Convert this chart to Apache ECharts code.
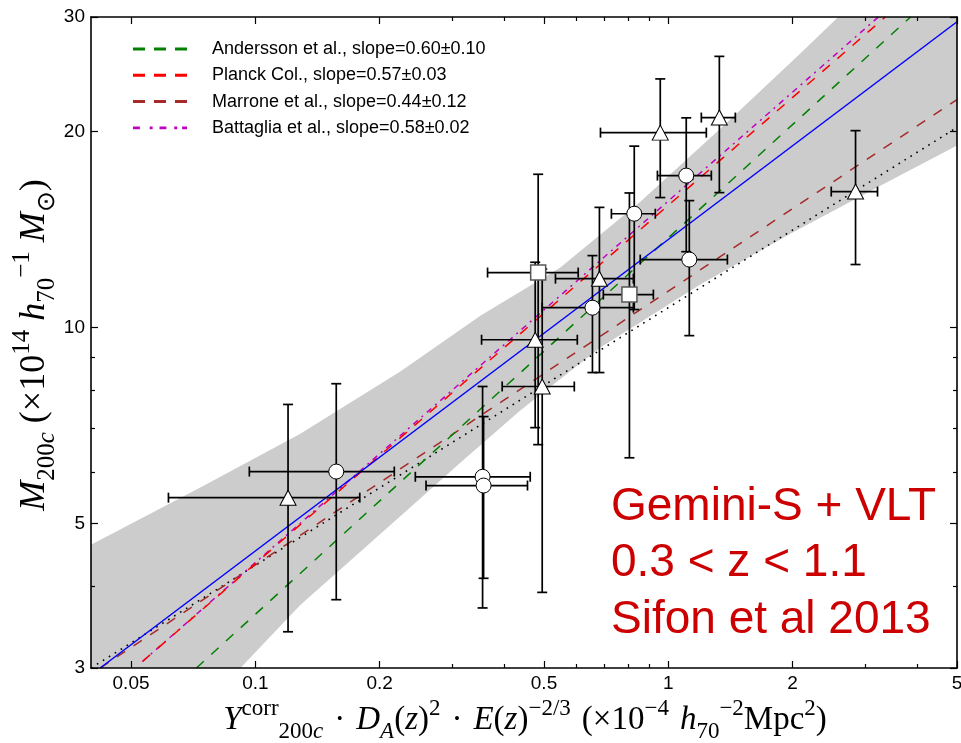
<!DOCTYPE html>
<html>
<head>
<meta charset="utf-8">
<script src="https://cdn.jsdelivr.net/npm/echarts@6/dist/echarts.min.js"></script>
<style>html,body{margin:0;padding:0;background:#fff;}</style>
</head>
<body>
<div id="main" style="width:961px;height:743px;"></div>
<script type="text/javascript">
// axis ticks
var xMajorTicks = [0.05, 0.1, 0.2, 0.5, 1, 2, 5];
var xMinorTicks = [0.3, 0.4, 0.6, 0.7, 0.8, 0.9, 3, 4];
var yMajorTicks = [3, 5, 10, 20, 30];
var yMinorTicks = [4, 6, 7, 8, 9];

// clusters: Y (x axis) and M200c (y axis), with error ranges
var ptShape = ['triangle', 'circle', 'circle', 'circle', 'rect', 'triangle', 'triangle', 'circle',
               'triangle', 'rect', 'circle', 'triangle', 'circle', 'circle', 'triangle', 'triangle'];
var ptX = [0.120, 0.157, 0.355, 0.357, 0.484, 0.476, 0.495, 0.655, 0.681, 0.805, 0.827, 0.956, 1.105, 1.124, 1.329, 2.84];
var ptY = [5.48, 6.01, 5.90, 5.72, 12.15, 9.58, 8.12, 10.73, 11.89, 11.24, 14.96, 19.93, 17.12, 12.72, 21.02, 16.18];
var xLo = [0.0616, 0.0967, 0.244, 0.259, 0.365, 0.353, 0.396, 0.495, 0.533, 0.696, 0.728, 0.685, 0.941, 0.855, 1.202, 2.48];
var xHi = [0.179, 0.217, 0.463, 0.456, 0.605, 0.602, 0.592, 0.823, 0.823, 0.920, 0.930, 1.236, 1.271, 1.390, 1.453, 3.21];
var yLo = [3.41, 3.82, 3.71, 4.12, 6.61, 7.02, 3.92, 8.53, 8.53, 6.31, 10.66, 15.84, 13.08, 9.72, 16.12, 12.50];
var yHi = [7.62, 8.20, 8.12, 7.30, 17.2, 12.6, 12.3, 12.9, 15.3, 16.1, 19.0, 24.1, 21.0, 15.67, 26.1, 20.07];

// scaling relations (end points)
var fitX = [0.0421, 5], fitY = [3, 29.5];
var anderssonX = [0.072, 3.86], anderssonY = [3, 30];
var planckX = [0.0533, 3.353], planckY = [3.07, 30];
var marroneX = [0.0421, 5], marroneY = [3, 22.4];
var battagliaX = [0.0533, 3.225], battagliaY = [3.07, 30];
var dottedX = [0.04, 5], dottedY = [3, 20.3];

// grey confidence band: upper edge left->right, lower edge right->left
var bandUpX = [0.04, 0.0736, 0.1285, 0.2244, 0.3506, 0.5477, 0.8554, 1.336, 2.087, 2.579, 5];
var bandUpY = [4.64, 5.68, 6.87, 8.56, 10.43, 12.37, 15.61, 20.21, 26.36, 30, 30];
var bandLoX = [5, 3.262, 1.974, 1.195, 0.6845, 0.438, 0.3135, 0.2244, 0.1285, 0.092, 0.04];
var bandLoY = [19.04, 16.52, 13.94, 11.65, 9.32, 7.46, 6.20, 5.13, 3.75, 3, 3];

var sans = 'Liberation Sans, Arial, sans-serif';
var serif = 'Liberation Serif, Times New Roman, serif';

var myChart = echarts.init(document.getElementById('main'));

function tickFmt(v) {
    return String(parseFloat(Number(v).toPrecision(3)));
}

function xAxisDef(pos, ticks, len, labels, line) {
    return {
        type: 'log', logBase: 10, min: 0.04, max: 5, position: pos, z: 10,
        axisLine: { show: line, onZero: false, lineStyle: { color: '#000', width: 1.6 } },
        axisTick: { show: true, inside: true, length: len, customValues: ticks, lineStyle: { color: '#000', width: 1.2 } },
        axisLabel: { show: labels, customValues: ticks, margin: 6, color: '#000', fontFamily: sans, fontSize: 19, formatter: tickFmt },
        splitLine: { show: false }, minorTick: { show: false }, minorSplitLine: { show: false }
    };
}
function yAxisDef(pos, ticks, len, labels, line) {
    return {
        type: 'log', logBase: 10, min: 3, max: 30, position: pos, z: 10,
        axisLine: { show: line, onZero: false, lineStyle: { color: '#000', width: 1.6 } },
        axisTick: { show: true, inside: true, length: len, customValues: ticks, lineStyle: { color: '#000', width: 1.2 } },
        axisLabel: { show: labels, customValues: ticks, margin: 6, color: '#000', fontFamily: sans, fontSize: 19, formatter: tickFmt },
        splitLine: { show: false }, minorTick: { show: false }, minorSplitLine: { show: false }
    };
}

function pairs(xs, ys) {
    return xs.map(function (x, i) { return [x, ys[i]]; });
}

function fitLine(name, xs, ys, color, width, dash, z) {
    return {
        name: name, type: 'line', data: pairs(xs, ys), symbol: 'none', showSymbol: false, silent: true, z: z,
        itemStyle: { color: color }, lineStyle: { color: color, width: width, type: dash, cap: 'butt' }
    };
}

var errData = ptX.map(function (x, i) { return [x, ptY[i], xLo[i], xHi[i], yLo[i], yHi[i]]; });
var ptData = ptX.map(function (x, i) {
    var s = ptShape[i];
    return {
        value: [x, ptY[i]],
        symbol: s,
        symbolSize: s === 'triangle' ? [16, 15] : 15,
        itemStyle: { color: '#fff', opacity: 1, borderColor: s === 'rect' ? '#555' : '#000', borderWidth: s === 'rect' ? 1.5 : 1 }
    };
});

function renderErr(params, api) {
    var x = api.value(0), y = api.value(1);
    var c = api.coord([x, y]);
    var l = api.coord([api.value(2), y]);
    var r = api.coord([api.value(3), y]);
    var b = api.coord([x, api.value(4)]);
    var t = api.coord([x, api.value(5)]);
    var cap = 5;
    var st = { stroke: '#000', lineWidth: 1.7 };
    function seg(x1, y1, x2, y2) {
        return { type: 'line', shape: { x1: x1, y1: y1, x2: x2, y2: y2 }, style: st };
    }
    return {
        type: 'group',
        children: [
            seg(l[0], c[1], r[0], c[1]),
            seg(c[0], t[1], c[0], b[1]),
            seg(l[0], c[1] - cap, l[0], c[1] + cap),
            seg(r[0], c[1] - cap, r[0], c[1] + cap),
            seg(c[0] - cap, t[1], c[0] + cap, t[1]),
            seg(c[0] - cap, b[1], c[0] + cap, b[1])
        ]
    };
}

function renderBand(params, api) {
    var pts = [];
    bandUpX.forEach(function (x, i) { pts.push(api.coord([x, bandUpY[i]])); });
    bandLoX.forEach(function (x, i) { pts.push(api.coord([x, bandLoY[i]])); });
    return { type: 'polygon', shape: { points: pts }, style: { fill: '#cccccc' } };
}

var dashIcon = 'path://M0,0h12v3h-12zM21,0h12v3h-12zM42,0h12v3h-12z';
var dashDotIcon = 'path://M0,0h7v3h-7zM17,0h3v3h-3zM27,0h7v3h-7zM42,0h3v3h-3zM50,0h5v3h-5z';

var nameAndersson = 'Andersson et al., slope=0.60\u00b10.10';
var namePlanck = 'Planck Col., slope=0.57\u00b10.03';
var nameMarrone = 'Marrone et al., slope=0.44\u00b10.12';
var nameBattaglia = 'Battaglia et al., slope=0.58\u00b10.02';

function mathRich(size) {
    var small = Math.round(size * 0.7);
    var lh = Math.round(size * 1.38), slh = Math.round(small * 1.1);
    return {
        it: { fontFamily: serif, fontStyle: 'italic', fontSize: size, lineHeight: lh, color: '#000' },
        rm: { fontFamily: serif, fontSize: size, lineHeight: lh, color: '#000' },
        sup: { fontFamily: serif, fontSize: small, lineHeight: slh, verticalAlign: 'top', color: '#000' },
        sub: { fontFamily: serif, fontSize: small, lineHeight: slh, verticalAlign: 'bottom', color: '#000' },
        subit: { fontFamily: serif, fontStyle: 'italic', fontSize: small, lineHeight: slh, verticalAlign: 'bottom', color: '#000' }
    };
}

var sp = '\u2004';
var xTitle = '{it|Y}{sup|corr}{sub|200}{subit|c}{rm|' + sp + '\u00b7' + sp + '}{it|D}{subit|A}{rm|(}{it|z}{rm|)}{sup|2}' +
    '{rm|' + sp + '\u00b7' + sp + '}{it|E}{rm|(}{it|z}{rm|)}{sup|\u22122/3}{rm|' + sp + '(\u00d710}{sup|\u22124}{rm|' + sp + '}{it|h}{sub|70}{sup|\u22122}' +
    '{rm|Mpc}{sup|2}{rm|)}';
var yTitle = '{it|M}{sub|200}{subit|c}{rm| (\u00d710}{sup|14}{rm| }{it|h}{sub|70}{sup|\u22121}{rm| }{it|M}{sub|\u2299}{rm|)}';

option = {
    animation: false,
    backgroundColor: '#fff',
    grid: { left: 91, right: 4, top: 17, bottom: 75, containLabel: false, outerBoundsMode: 'none' },
    xAxis: [
        xAxisDef('bottom', xMajorTicks, 7, true, true),
        xAxisDef('bottom', xMinorTicks, 4, false, false),
        xAxisDef('top', xMajorTicks, 7, false, true),
        xAxisDef('top', xMinorTicks, 4, false, false)
    ],
    yAxis: [
        yAxisDef('left', yMajorTicks, 7, true, true),
        yAxisDef('left', yMinorTicks, 4, false, false),
        yAxisDef('right', yMajorTicks, 7, false, true),
        yAxisDef('right', yMinorTicks, 4, false, false)
    ],
    legend: {
        orient: 'vertical', left: 128, top: 34, itemWidth: 54, itemHeight: 3, itemGap: 6.3,
        selectedMode: false,
        itemStyle: { borderWidth: 0 },
        textStyle: { fontFamily: sans, fontSize: 18, color: '#000', lineHeight: 20, padding: [0, 0, 0, 20] },
        data: [
            { name: nameAndersson, icon: dashIcon },
            { name: namePlanck, icon: dashIcon },
            { name: nameMarrone, icon: dashIcon },
            { name: nameBattaglia, icon: dashDotIcon }
        ]
    },
    graphic: [
        { type: 'text', x: 35, y: 345, rotation: Math.PI / 2, z: 100,
          style: { text: yTitle, rich: mathRich(36), align: 'center', verticalAlign: 'middle' } },
        { type: 'text', x: 525, y: 720, z: 100,
          style: { text: xTitle, rich: mathRich(33), align: 'center', verticalAlign: 'middle' } },
        { type: 'text', x: 611, y: 507, z: 100,
          style: { text: 'Gemini-S + VLT', fill: '#cc0000', fontFamily: sans, fontSize: 46, align: 'left', verticalAlign: 'middle' } },
        { type: 'text', x: 611, y: 563, z: 100,
          style: { text: '0.3 < z < 1.1', fill: '#cc0000', fontFamily: sans, fontSize: 46, align: 'left', verticalAlign: 'middle' } },
        { type: 'text', x: 611, y: 620, z: 100,
          style: { text: 'Sifon et al 2013', fill: '#cc0000', fontFamily: sans, fontSize: 46, align: 'left', verticalAlign: 'middle' } }
    ],
    series: [
        { type: 'custom', name: 'band', renderItem: renderBand, data: [[bandUpX[0], bandUpY[0]]], silent: true, z: 1 },
        fitLine('dotted', dottedX, dottedY, '#000', 1.6, [1.6, 5.4], 2),
        fitLine(nameMarrone, marroneX, marroneY, '#a52a2a', 1.5, [10, 10], 2),
        fitLine(nameAndersson, anderssonX, anderssonY, '#008000', 1.5, [10, 10], 2),
        fitLine(nameBattaglia, battagliaX, battagliaY, '#bf00bf', 1.5, [6, 5, 2, 5], 2),
        fitLine(namePlanck, planckX, planckY, '#ff0000', 1.5, [10, 10], 2),
        fitLine('fit', fitX, fitY, '#0000ff', 1.5, 'solid', 2),
        {
            type: 'custom', name: 'errors', renderItem: renderErr, data: errData, silent: true, z: 3,
            encode: { x: [0, 2, 3], y: [1, 4, 5] }
        },
        { type: 'scatter', name: 'clusters', data: ptData, silent: true, z: 4, itemStyle: { opacity: 1 } }
    ]
};
myChart.setOption(option);
</script>
</body>
</html>
